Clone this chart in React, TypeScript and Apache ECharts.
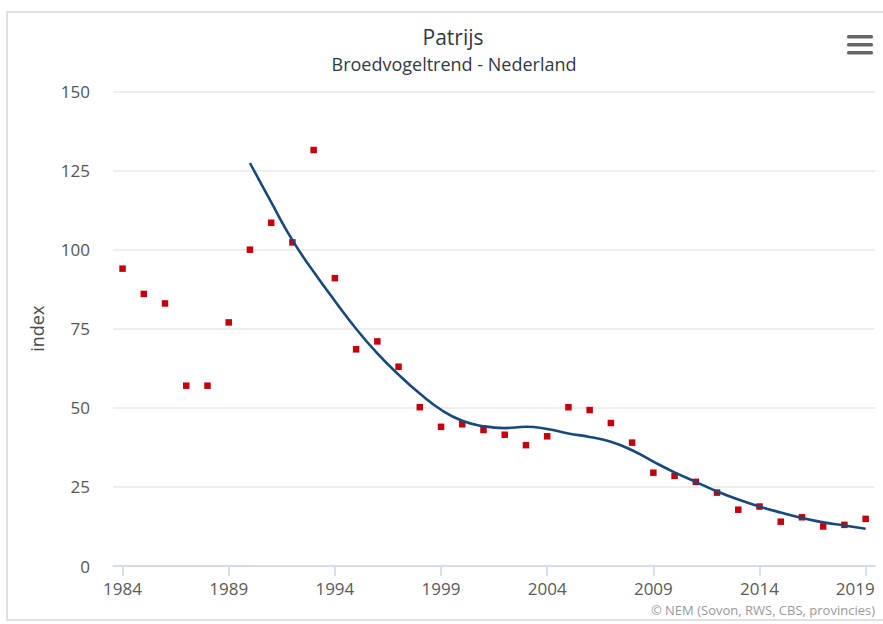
import React, { useEffect, useRef } from "react";
import * as echarts from "echarts";

const years: number[] = [
  1984, 1985, 1986, 1987, 1988, 1989, 1990, 1991, 1992, 1993, 1994, 1995,
  1996, 1997, 1998, 1999, 2000, 2001, 2002, 2003, 2004, 2005, 2006, 2007,
  2008, 2009, 2010, 2011, 2012, 2013, 2014, 2015, 2016, 2017, 2018, 2019,
];

const indexValues: number[] = [
  94, 86, 83, 57, 57, 77, 100, 108.5, 102.3, 131.5, 91, 68.5,
  71, 63, 50.2, 44, 44.8, 43, 41.5, 38.2, 41, 50.2, 49.3, 45.2,
  39, 29.5, 28.5, 26.6, 23.2, 17.8, 18.8, 14, 15.4, 12.5, 13, 14.9,
];

const trendYears: number[] = [
  1990, 1991, 1992, 1993, 1994, 1995, 1996, 1997, 1998, 1999, 2000, 2001,
  2002, 2003, 2004, 2005, 2006, 2007, 2008, 2009, 2010, 2011, 2012, 2013,
  2014, 2015, 2016, 2017, 2018, 2019,
];

const trendValues: number[] = [
  127.4, 115, 103, 93, 83.8, 75, 67.2, 60.5, 54.5, 49.4, 45.9, 44.2,
  43.6, 44.0, 43.3, 41.9, 40.8, 39.3, 36.6, 33.0, 29.6, 26.6, 23.6, 21.0,
  18.8, 16.9, 15.2, 13.8, 12.8, 11.8,
];

const xTickValues: number[] = [1984, 1989, 1994, 1999, 2004, 2009, 2014, 2019];
const yTicks = { min: 0, max: 150, interval: 25 };

const FONT = "'Open Sans', 'Noto Sans', sans-serif";

export default function App() {
  const ref = useRef<HTMLDivElement>(null);

  useEffect(() => {
    if (!ref.current) return;
    const chart = echarts.init(ref.current, null, { renderer: "svg" });

    const scatterData = years.map((y, i) => [y, indexValues[i]]);
    const trendData = trendYears.map((y, i) => [y, trendValues[i]]);

    chart.setOption({
      animation: false,
      backgroundColor: "#ffffff",
      textStyle: { fontFamily: FONT },
      title: [
        {
          text: "Patrijs",
          left: 453,
          top: 26,
          padding: 0,
          textAlign: "center",
          textStyle: { fontFamily: FONT, fontSize: 21, fontWeight: "normal", color: "#2f3a44" },
        },
        {
          text: "Broedvogeltrend - Nederland",
          left: 454,
          top: 55,
          padding: 0,
          textAlign: "center",
          textStyle: { fontFamily: FONT, fontSize: 18, fontWeight: "normal", color: "#2f3a44" },
        },
      ],
      grid: {
        left: 113,
        right: 8,
        top: 91.5,
        bottom: 58,
        containLabel: false,
        outerBoundsMode: "none",
      },
      xAxis: {
        type: "value",
        min: 1983.55,
        max: 2019.44,
        axisLine: { show: true, lineStyle: { color: "#ccd6eb", width: 1.5 } },
        axisTick: {
          show: true,
          length: 10,
          customValues: xTickValues,
          lineStyle: { color: "#ccd6eb", width: 1.5 },
        },
        axisLabel: {
          customValues: xTickValues,
          margin: 14,
          color: "#5a5a5a",
          fontFamily: FONT,
          fontSize: 17,
          formatter: (v: number) => (v === 2019 ? "{r|2019}" : String(v)),
          rich: {
            r: { padding: [0, 21, 0, 0], color: "#5a5a5a", fontFamily: FONT, fontSize: 17 },
          },
        },
        splitLine: { show: false },
      },
      yAxis: {
        type: "value",
        min: yTicks.min,
        max: yTicks.max,
        interval: yTicks.interval,
        name: "index",
        nameLocation: "middle",
        nameRotate: 90,
        nameGap: 67,
        nameTextStyle: { color: "#4a4a4a", fontFamily: FONT, fontSize: 18 },
        axisLine: { show: false },
        axisTick: { show: false },
        axisLabel: { margin: 23, color: "#555555", fontFamily: FONT, fontSize: 17 },
        splitLine: { show: true, lineStyle: { color: "#e8e8e8", width: 1.5 } },
      },
      series: [
        {
          type: "scatter",
          name: "index",
          data: scatterData,
          symbol: "rect",
          symbolSize: 6.5,
          itemStyle: { color: "#c4000c", opacity: 1 },
          z: 2,
        },
        {
          type: "line",
          name: "trend",
          data: trendData,
          smooth: 0.5,
          showSymbol: false,
          symbol: "none",
          lineStyle: { color: "#17497a", width: 2.6 },
          z: 3,
        },
      ],
      graphic: [
        {
          type: "rect",
          shape: { x: 7, y: 12, width: 900, height: 608 },
          style: { fill: "none", stroke: "#e0e0e0", lineWidth: 2 },
          silent: true,
        },
        {
          type: "text",
          right: 8,
          top: 603,
          style: {
            text: "© NEM (Sovon, RWS, CBS, provincies)",
            fill: "#999999",
            font: `13px ${FONT}`,
          },
        },
        {
          type: "group",
          left: 847,
          top: 35,
          children: [
            { type: "rect", shape: { x: 0, y: 0, width: 26, height: 3.6, r: 1.5 }, style: { fill: "#666666" } },
            { type: "rect", shape: { x: 0, y: 8, width: 26, height: 3.6, r: 1.5 }, style: { fill: "#666666" } },
            { type: "rect", shape: { x: 0, y: 16, width: 26, height: 3.6, r: 1.5 }, style: { fill: "#666666" } },
          ],
        },
      ],
    });

    return () => chart.dispose();
  }, []);

  return (
    <div
      ref={ref}
      style={{ position: "absolute", left: 0, top: 0, width: 883, height: 624 }}
    />
  );
}
